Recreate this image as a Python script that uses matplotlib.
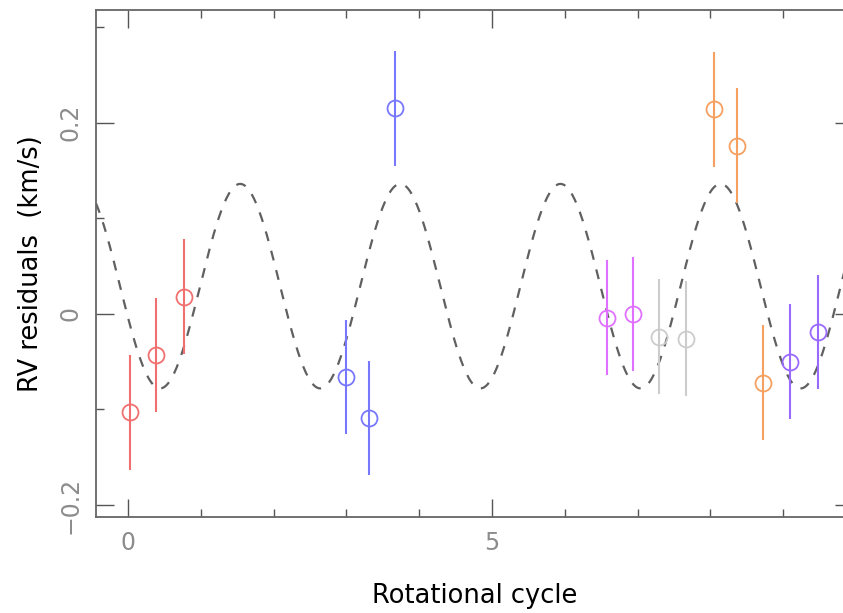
import numpy as np
import matplotlib
matplotlib.use('Agg')
import matplotlib.pyplot as plt
from matplotlib.ticker import MultipleLocator

plt.rcParams['font.family'] = 'DejaVu Sans'

# RV residuals per observing run (rotational cycle, residual km/s, error km/s)
red_cycle = [0.03, 0.39, 0.77]
red_rv = [-0.103, -0.043, 0.018]
red_err = [0.06, 0.06, 0.06]

blue_cycle = [2.99, 3.31, 3.67]
blue_rv = [-0.066, -0.109, 0.215]
blue_err = [0.06, 0.06, 0.06]

magenta_cycle = [6.58, 6.94]
magenta_rv = [-0.004, 0.0]
magenta_err = [0.06, 0.06]

grey_cycle = [7.29, 7.66]
grey_rv = [-0.024, -0.026]
grey_err = [0.06, 0.06]

orange_cycle = [8.05, 8.37, 8.72]
orange_rv = [0.214, 0.176, -0.072]
orange_err = [0.06, 0.06, 0.06]

purple_cycle = [9.09, 9.48]
purple_rv = [-0.050, -0.019]
purple_err = [0.06, 0.06]

# sinusoidal fit to the residuals
fit_period = 2.2
fit_peak = 1.54
fit_amp = 0.107
fit_offset = 0.029

groups = [
    (red_cycle, red_rv, red_err, '#f07070'),
    (blue_cycle, blue_rv, blue_err, '#7878ff'),
    (magenta_cycle, magenta_rv, magenta_err, '#e070ff'),
    (grey_cycle, grey_rv, grey_err, '#cccccc'),
    (orange_cycle, orange_rv, orange_err, '#f5a060'),
    (purple_cycle, purple_rv, purple_err, '#9a6aff'),
]

fig = plt.figure(figsize=(8.43, 6.13), dpi=100)
# right frame edge sits just past the canvas
ax = fig.add_axes([0.1139, 0.1566, 0.898, 0.8271])

xmin, xmax = -0.44, 9.96
xx = np.linspace(xmin, xmax, 600)
model = fit_offset + fit_amp * np.cos(2 * np.pi * (xx - fit_peak) / fit_period)
ax.plot(xx, model, ls=(0, (4.5, 4.5)), color='#606060', lw=1.6, zorder=2)

for cyc, rv, err, col in groups:
    ax.errorbar(cyc, rv, yerr=err, fmt='o', mfc='none', mec=col, ecolor=col,
                ms=11.5, mew=1.3, elinewidth=1.5, capsize=0, zorder=3)

ax.set_xlim(xmin, xmax)
ax.set_ylim(-0.2126, 0.318)

ax.xaxis.set_major_locator(MultipleLocator(5))
ax.xaxis.set_minor_locator(MultipleLocator(1))
ax.yaxis.set_major_locator(MultipleLocator(0.2))
ax.yaxis.set_minor_locator(MultipleLocator(0.1))
ax.xaxis.set_major_formatter(plt.FuncFormatter(lambda v, p: f'{v:g}'))
ax.yaxis.set_major_formatter(plt.FuncFormatter(
    lambda v, p: '0' if abs(v) < 1e-9 else f'{v:.1f}'.replace('-', '\u2212')))

ax.tick_params(which='both', direction='in', top=True, right=True,
               color='#555555', width=1.0, labelcolor='#8c8c8c', labelsize=17)
ax.tick_params(which='major', length=13, pad=10)
ax.tick_params(which='minor', length=6)
for lab in ax.get_yticklabels():
    lab.set_rotation(90)
    lab.set_va('center')
for s in ax.spines.values():
    s.set_color('#666666')
    s.set_linewidth(1.3)

ax.set_xlabel('Rotational cycle', fontsize=18.5, labelpad=20)
ax.set_ylabel('RV residuals  (km/s)', fontsize=18.5, labelpad=10)

fig.savefig('out.png', dpi=100)
